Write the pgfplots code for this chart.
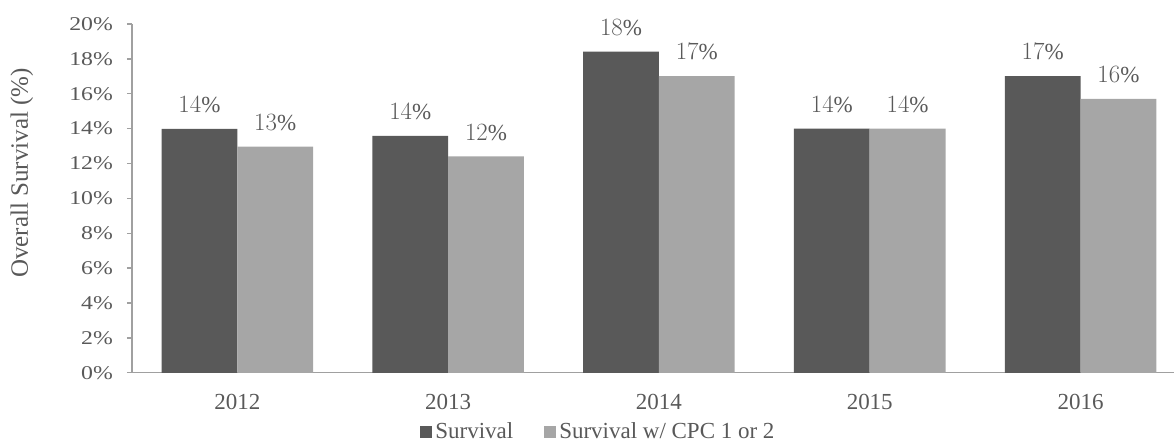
\documentclass[border=0pt]{standalone}
\usepackage{pgfplots}
\pgfplotsset{compat=1.18}
\usepackage{fontspec}
\setmainfont{Liberation Serif}

\definecolor{darkbar}{HTML}{595959}
\definecolor{lightbar}{HTML}{A6A6A6}
\definecolor{txt}{HTML}{595959}
\definecolor{axisgray}{HTML}{A0A0A0}

% Overall survival by year
\pgfplotstableread{
idx year surv cpc
0 2012 13.98 12.97
1 2013 13.59 12.41
2 2014 18.42 17.01
3 2015 14.00 14.00
4 2016 17.01 15.70
}\survtable

\begin{document}
\begin{tikzpicture}
\begin{axis}[
    name=ax,
    scale only axis,
    width=1043pt, height=349pt,
    xmin=-0.5, xmax=4.445,
    ymin=0, ymax=20,
    axis x line*=bottom,
    axis y line*=left,
    axis line style={draw=axisgray, line width=1.3pt, -},
    xtick=data,
    xticklabels={2012,2013,2014,2015,2016},
    x tick style={draw=none},
    x tick label style={font=\fontsize{23}{24}\selectfont, text=txt, yshift=-13pt},
    ytick={0,2,...,20},
    yticklabel={\pgfmathprintnumber[assume math mode=true]{\tick}\%},
    y tick label style={font=\fontsize{19.5}{20}\selectfont, text=txt, xscale=1.22, xshift=-8pt},
    y tick style={draw=axisgray, line width=1.3pt},
    tick align=outside,
    major tick length=5pt,
    ylabel={Overall Survival (\%)},
    ylabel style={font=\fontsize{25}{26}\selectfont, text=txt,
                  at={(rel axis cs:0,0.573)}, anchor=center, yshift=110pt},
    ybar,
    bar width=75.8pt,
    nodes near coords={\pgfmathprintnumber[fixed,precision=0]{\pgfplotspointmeta}\%},
    every node near coord/.append style={font=\fontsize{23}{24}\selectfont, text=txt,
                  anchor=south, inner sep=0pt, text depth=0pt, yshift=16pt},
    legend columns=2,
    legend style={at={(axis description cs:0.448,-0.169)}, anchor=center,
                  draw=none, fill=none, font=\fontsize{23}{24}\selectfont, text=txt,
                  nodes={inner ysep=1.5pt, inner xsep=3pt},
                  /tikz/every even column/.append style={column sep=28pt}},
    legend image code/.code={\fill[#1] (0pt,-6pt) rectangle (12pt,6pt);},
    clip=false,
]
\addplot[fill=darkbar, draw=none, bar shift=-37.9pt] table[x=idx, y=surv] {\survtable};
\addlegendentry{Survival}
\addplot[fill=lightbar, draw=none, bar shift=37.9pt] table[x=idx, y=cpc] {\survtable};
\addlegendentry{Survival w/ CPC 1 or 2}
\end{axis}
\path[use as bounding box] ([xshift=-132pt,yshift=-68pt]ax.south west)
    rectangle ([yshift=24pt]ax.north east);
\end{tikzpicture}
\end{document}
